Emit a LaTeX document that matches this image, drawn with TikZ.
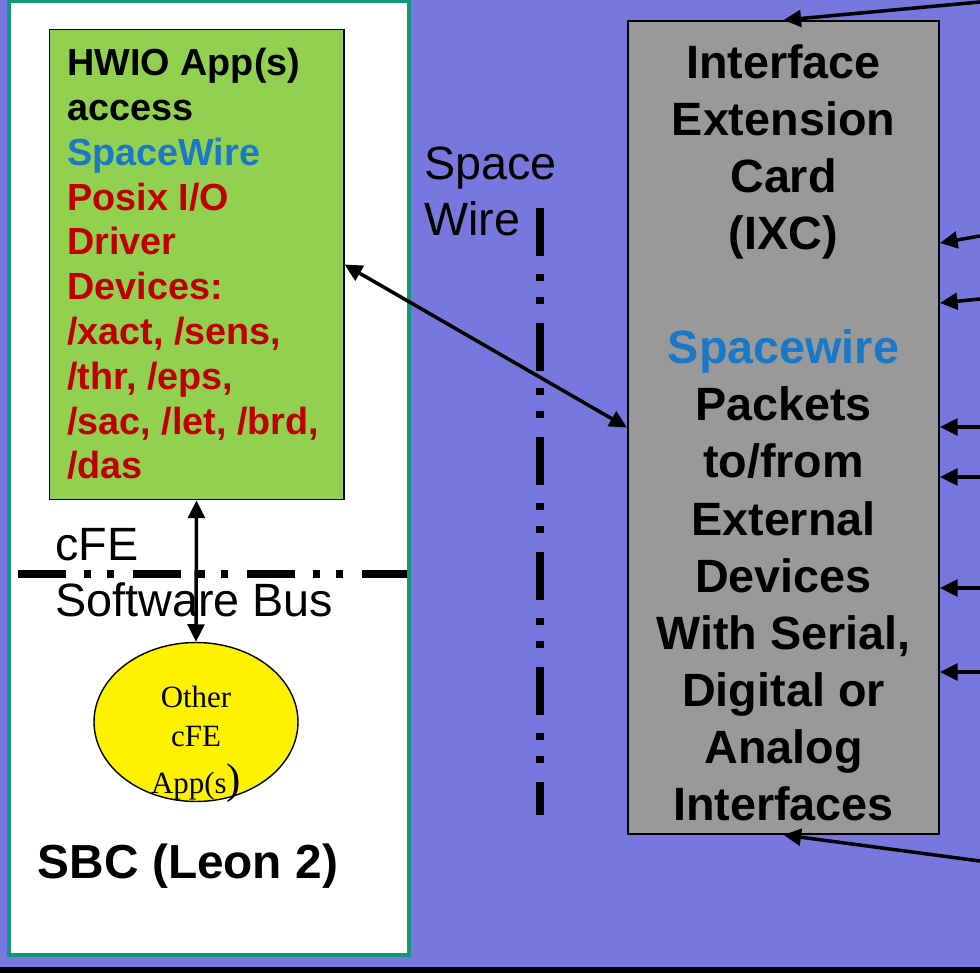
\documentclass[tikz,border=0pt]{standalone}
\usepackage{fontspec}
\setmainfont{Liberation Sans}
\newfontfamily\appserif{Liberation Serif}
\usetikzlibrary{arrows.meta,shapes.geometric}

\definecolor{slidebg}{HTML}{7877DD}
\definecolor{sbcteal}{HTML}{10987A}
\definecolor{hwiogreen}{HTML}{92D050}
\definecolor{ixcgray}{HTML}{999999}
\definecolor{spwblue}{HTML}{1A78C8}
\definecolor{devred}{HTML}{C00000}

\tikzset{
  sig/.style={line width=2pt, -{Triangle[length=10pt,width=9.5pt]}},
  bisig/.style={line width=2pt, {Triangle[length=10pt,width=9.5pt]}-{Triangle[length=10pt,width=9.5pt]}},
  busline/.style={line width=4pt, dash pattern=on 27.2pt off 10.2pt on 4pt off 9.1pt on 4pt off 10.8pt},
  bigsans/.style={font=\fontsize{26.6pt}{31.8pt}\selectfont},
  boldsans/.style={font=\fontsize{26.6pt}{32.5pt}\selectfont\bfseries},
}

\begin{document}
\begin{tikzpicture}[x=0.02cm, y=-0.02cm]

  % Background
  \useasboundingbox (0,0) rectangle (980,973);
  \fill[slidebg] (0,0) rectangle (980,973);
  \fill[black] (0,967) rectangle (980,973);

  % SBC board
  \fill[white] (9,1) rectangle (409,955);
  \draw[busline] (18,574) -- (407,574);
  \draw[sbcteal, line width=2.5pt] (9,1) rectangle (409,955);

  % HWIO app box
  \node[draw=black, line width=0.6pt, fill=hwiogreen, inner sep=0pt,
        minimum width=5.9cm, minimum height=9.42cm] (hwio) at (196.5,264.5) {};
  \node[anchor=north west, inner sep=0pt, align=left,
        font=\fontsize{21.5pt}{25.5pt}\selectfont\bfseries] (hwiotxt) at (67,48)
    {HWIO App(s)\\access\\\textcolor{spwblue}{SpaceWire}\\
     \textcolor{devred}{Posix I/O}\\\textcolor{devred}{Driver}\\
     \textcolor{devred}{Devices:}\\\textcolor{devred}{/xact, /sens,}\\
     \textcolor{devred}{/thr, /eps,}\\\textcolor{devred}{/sac, /let, /brd,}\\
     \textcolor{devred}{/das}};

  % Other cFE apps
  \node[ellipse, draw=black, line width=0.8pt, fill=yellow, inner sep=0pt,
        minimum width=4.08cm, minimum height=3.18cm] (other) at (196,722) {};
  \node[anchor=north, inner sep=0pt, align=center,
        font=\appserif\fontsize{17.6pt}{21.8pt}\selectfont] (othertxt) at (196,686)
    {Other\\cFE\\[5pt]App(s{\fontsize{24.4pt}{24.4pt}\selectfont)}};

  % Software bus
  \node[bigsans, anchor=north west, inner sep=0pt, align=left] (bus) at (55,528)
    {cFE\\Software Bus};
  \draw[bisig] (hwio.south) -- (other.north);

  \node[anchor=base, inner sep=0pt, font=\fontsize{27.2pt}{32pt}\selectfont\bfseries]
    (sbc) at (188,878) {SBC (Leon 2)};

  % SpaceWire link
  \node[bigsans, anchor=north west, inner sep=0pt, align=left] (spw) at (424,147)
    {Space\\Wire};
  \draw[busline] (540,208) -- (540,815);

  % Interface extension card
  \node[draw=black, line width=1.1pt, fill=ixcgray, inner sep=0pt,
        minimum width=6.22cm, minimum height=16.26cm] (ixc) at (783.5,427.5) {};
  \node[boldsans, anchor=north, inner sep=0pt, align=center] (ixctxt) at (783.5,44)
    {Interface\\Extension\\Card\\(IXC)\\[32.5pt]\textcolor{spwblue}{Spacewire}\\
     Packets\\to/from\\External\\Devices\\With Serial,\\Digital or\\Analog\\Interfaces};

  \draw[bisig] (hwio.east) -- (ixc.west);

  % External device lines
  \coordinate (ext0) at (980,2);
  \coordinate (ext1) at (980,236);
  \coordinate (ext2) at (980,299);
  \coordinate (ext3) at (980,427);
  \coordinate (ext4) at (980,477);
  \coordinate (ext5) at (980,588);
  \coordinate (ext6) at (980,672);
  \coordinate (ext7) at (980,861);
  \draw[sig] (ext0) -- (ixc.north);
  \draw[sig] (ext1) -- (ixc.east |- 0,243);
  \draw[sig] (ext2) -- (ixc.east |- 0,303);
  \foreach \e in {3,...,6}
    \draw[sig] (ext\e) -- (ext\e -| ixc.east);
  \draw[sig] (ext7) -- (ixc.south);

\end{tikzpicture}
\end{document}
